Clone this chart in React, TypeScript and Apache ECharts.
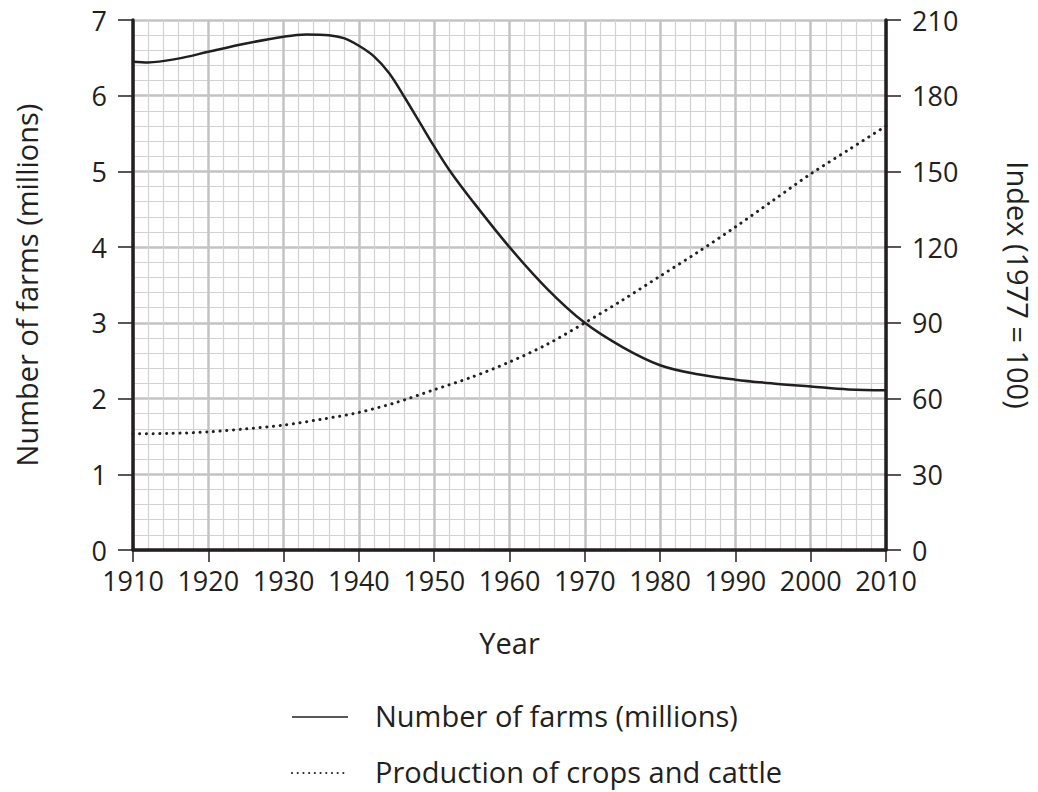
import React, { useEffect, useRef } from "react";
import * as echarts from "echarts";

const farmYears = [1910, 1912, 1916, 1920, 1925, 1930, 1933, 1936, 1938, 1940, 1942, 1944, 1946, 1948, 1950, 1952, 1955, 1960, 1965, 1970, 1975, 1980, 1985, 1990, 1995, 2000, 2005, 2010];
const farmValues = [6.45, 6.44, 6.49, 6.58, 6.69, 6.78, 6.81, 6.8, 6.76, 6.66, 6.52, 6.3, 5.99, 5.66, 5.33, 5.02, 4.62, 4.0, 3.45, 3.0, 2.68, 2.44, 2.32, 2.25, 2.2, 2.16, 2.12, 2.11];
const prodYears = [1910, 1915, 1920, 1925, 1930, 1935, 1940, 1945, 1950, 1955, 1960, 1965, 1970, 1975, 1980, 1985, 1990, 1995, 2000, 2005, 2010];
const prodValues = [46, 46.2, 46.8, 48, 49.5, 51.8, 54.5, 58.5, 63.5, 68.5, 74.5, 81.5, 90, 99, 108.5, 118, 128, 138.5, 149, 158.5, 168];

const xAxisName = "Year";
const leftAxisName = "Number of farms (millions)";
const rightAxisName = "Index (1977 = 100)";
const seriesNames = ["Number of farms (millions)", "Production of crops and cattle"];

const FONT = "'Open Sans', 'Noto Sans', sans-serif";
const TXT = "#231f20";
const TICK_FS = 27;
const TITLE_FS = 29;

export default function App() {
  const ref = useRef<HTMLDivElement>(null);
  useEffect(() => {
    if (!ref.current) return;
    document.body.style.margin = "0";
    document.body.style.overflow = "hidden";
    const chart = echarts.init(ref.current, undefined, { renderer: "svg" });
    const major = { show: true, lineStyle: { color: "#c3c3c3", width: 2.5 } };
    const minor = { show: true, lineStyle: { color: "#d2d2d2", width: 1.2 } };
    const legendText = (y: number, t: string) => ({
      type: "text",
      left: 375,
      top: y - TITLE_FS * 0.56,
      style: { text: t, fontSize: TITLE_FS, fill: TXT, fontFamily: FONT },
    });
    chart.setOption({
      animation: false,
      backgroundColor: "#ffffff",
      textStyle: { fontFamily: FONT, color: TXT },
      grid: { left: 133, right: 152, top: 20, bottom: 242, containLabel: false, outerBoundsMode: "none" },
      xAxis: {
        type: "value",
        min: 1910,
        max: 2010,
        interval: 10,
        name: xAxisName,
        nameLocation: "middle",
        nameGap: 78,
        nameTextStyle: { fontSize: TITLE_FS, color: TXT, fontFamily: FONT },
        axisLine: { show: true, onZero: false, lineStyle: { color: TXT, width: 3.5 } },
        axisTick: { show: true, length: 12, lineStyle: { color: TXT, width: 1.5 } },
        minorTick: { show: false, splitNumber: 5 },
        splitLine: major,
        minorSplitLine: minor,
        axisLabel: { fontSize: TICK_FS, color: TXT, margin: 17, fontFamily: FONT, formatter: (v: number) => String(v) },
      },
      yAxis: [
        {
          type: "value",
          position: "left",
          min: 0,
          max: 7,
          interval: 1,
          name: leftAxisName,
          nameLocation: "middle",
          nameGap: 92,
          nameTextStyle: { fontSize: TITLE_FS, color: TXT, fontFamily: FONT },
          axisLine: { show: true, lineStyle: { color: TXT, width: 3.5 } },
          axisTick: { show: true, length: 15, lineStyle: { color: TXT, width: 1.5 } },
          minorTick: { show: false, splitNumber: 5 },
          splitLine: major,
          minorSplitLine: minor,
          axisLabel: { fontSize: TICK_FS, color: TXT, margin: 26, fontFamily: FONT },
        },
        {
          type: "value",
          position: "right",
          min: 0,
          max: 210,
          interval: 30,
          name: rightAxisName,
          nameLocation: "middle",
          nameGap: 118,
          nameRotate: -90,
          nameTextStyle: { fontSize: TITLE_FS, lineHeight: TITLE_FS, color: TXT, fontFamily: FONT },
          axisLine: { show: true, lineStyle: { color: TXT, width: 3.5 } },
          axisTick: { show: true, length: 15, lineStyle: { color: TXT, width: 1.5 } },
          splitLine: { show: false },
          axisLabel: { fontSize: TICK_FS, color: TXT, margin: 26, fontFamily: FONT },
        },
      ],
      graphic: [
        { type: "line", shape: { x1: 292, y1: 717, x2: 348, y2: 717 }, style: { stroke: TXT, lineWidth: 1.6 } },
        legendText(717, seriesNames[0]),
        { type: "line", shape: { x1: 292, y1: 773, x2: 348, y2: 773 }, style: { stroke: TXT, lineWidth: 2, lineDash: [0.1, 5.6], lineCap: "round" } },
        legendText(773, seriesNames[1]),
      ],
      series: [
        {
          name: seriesNames[0],
          type: "line",
          yAxisIndex: 0,
          smooth: 0.35,
          symbol: "none",
          lineStyle: { color: TXT, width: 2.5 },
          itemStyle: { color: TXT },
          data: farmYears.map((y, i) => [y, farmValues[i]]),
        },
        {
          name: seriesNames[1],
          type: "line",
          yAxisIndex: 1,
          smooth: 0.3,
          symbol: "none",
          lineStyle: { color: TXT, width: 3, type: [0.1, 6.6], cap: "round" },
          itemStyle: { color: TXT },
          data: prodYears.map((y, i) => [y, prodValues[i]]),
        },
      ],
    });
    return () => chart.dispose();
  }, []);
  return <div ref={ref} style={{ width: 1038, height: 792, position: "absolute", left: 0, top: 0 }} />;
}
